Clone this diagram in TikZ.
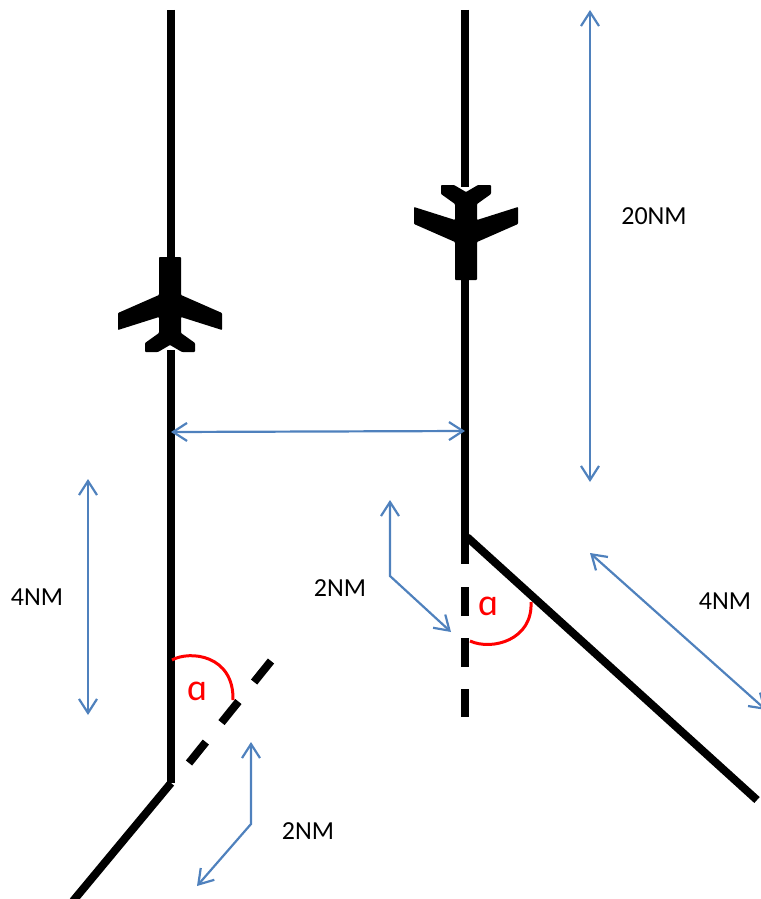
\documentclass[tikz,border=0pt]{standalone}
\usepackage{fontspec}
\setmainfont{Carlito}
\usetikzlibrary{arrows.meta, calc}
\definecolor{dimblue}{HTML}{4F81BD}
\tikzset{
	track/.style={line width=8pt, color=black},
	dimline/.style={line width=2.2pt, color=dimblue, {Straight Barb[length=14pt, width=18pt, line width=2.2pt]}-{Straight Barb[length=14pt, width=18pt, line width=2.2pt]}},
	dimlabel/.style={color=black, font=\fontsize{26}{26}\selectfont, inner sep=0pt},
	anglearc/.style={line width=3pt, color=red},
	anglelabel/.style={color=red, font=\fontsize{38}{38}\selectfont, inner sep=0pt},
	plane/.pic={
		\fill[rounded corners=0.8pt] (-11,-48) -- (11,-48) -- (11,-10) -- (52,8) -- (52,25) -- (11,12) -- (11,28) -- (25,38) -- (25,47) -- (12,47) -- (0,40) -- (-12,47) -- (-25,47) -- (-25,38) -- (-11,28) -- (-11,12) -- (-52,25) -- (-52,8) -- (-11,-10) -- cycle;
	}
}
\begin{document}
\begin{tikzpicture}[x=1pt, y=-1pt]
	\useasboundingbox (0,0) rectangle (760,899);
	% tracks
	\coordinate (lefttop) at (171,10);
	\coordinate (leftplanetop) at (171,260);
	\coordinate (leftplanebot) at (171,350);
	\coordinate (leftturn) at (171,783);
	\coordinate (leftend) at (73,901);
	\coordinate (righttop) at (465,10);
	\coordinate (rightplanetop) at (465,187);
	\coordinate (rightplanebot) at (465,278);
	\coordinate (rightturn) at (465,564);
	\coordinate (rightbranch) at (467,537);
	\coordinate (rightend) at (757,800);
	\draw[track] (lefttop) -- (leftplanetop);
	\draw[track] (leftplanebot) -- (leftturn);
	\draw[track] (leftturn) -- (leftend);
	\draw[track] (righttop) -- (rightplanetop);
	\draw[track] (rightplanebot) -- (rightturn);
	\draw[track] (rightbranch) -- (rightend);
	% dashed extensions
	\coordinate (leftdasha) at (271,661);
	\coordinate (leftdashb) at (189,763);
	\coordinate (rightdasha) at (465,587);
	\coordinate (rightdashb) at (465,717);
	\draw[track, dash pattern=on 27pt off 25pt] (leftdasha) -- (leftdashb);
	\draw[track, dash pattern=on 29pt off 22pt] (rightdasha) -- (rightdashb);
	% aircraft
	\pic at (170,305) {plane};
	\pic[yscale=-1] at (466,232) {plane};
	% dimensions
	\coordinate (farup) at (590,10);
	\coordinate (fardown) at (590,482);
	\coordinate (gapleft) at (171,432);
	\coordinate (gapright) at (465,431);
	\coordinate (leftup) at (88,479);
	\coordinate (leftdown) at (88,715);
	\coordinate (diagup) at (590,553);
	\coordinate (diagdown) at (766,710);
	\draw[dimline] (farup) -- (fardown);
	\draw[dimline] (gapleft) -- (gapright);
	\draw[dimline] (leftup) -- (leftdown);
	\draw[dimline] (diagup) -- (diagdown);
	\coordinate (midtip) at (390,500);
	\coordinate (midknee) at (390,576);
	\coordinate (midend) at (451,632);
	\coordinate (lowtip) at (251,742);
	\coordinate (lowknee) at (251,824);
	\coordinate (lowend) at (197,886);
	\draw[dimline] (midtip) -- (midknee) -- (midend);
	\draw[dimline] (lowtip) -- (lowknee) -- (lowend);
	% angles
	\draw[anglearc] (172,660) .. controls (190,650) and (234,655) .. (233,700);
	\draw[anglearc] (470,641) .. controls (492,651) and (533,640) .. (531,602);
	\node[anglelabel] (lefta) at (197,691) {ɑ};
	\node[anglelabel] (righta) at (488,606) {ɑ};
	% labels
	\node[dimlabel] (labelfar) at (654,216) {20NM};
	\node[dimlabel] (labelleft) at (37,597) {4NM};
	\node[dimlabel] (labelmid) at (340,588) {2NM};
	\node[dimlabel] (labellow) at (308,831) {2NM};
	\node[dimlabel] (labeldiag) at (725,601) {4NM};
\end{tikzpicture}
\end{document}
